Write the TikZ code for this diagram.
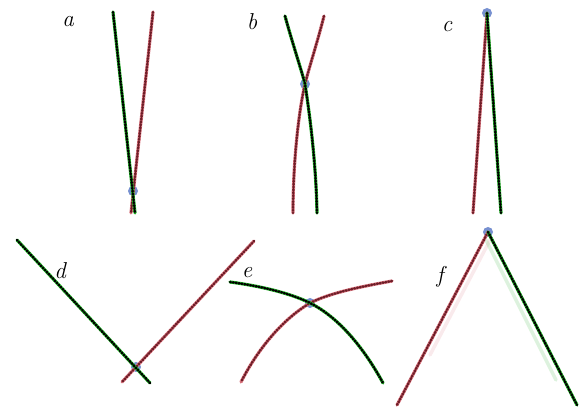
\documentclass[tikz,border=0pt]{standalone}
\begin{document}
\begin{tikzpicture}[x=1pt,y=-1pt]
\definecolor{ropegreen}{RGB}{30,170,35}
\definecolor{ropered}{RGB}{215,115,125}
\definecolor{stripered}{RGB}{110,30,40}
\definecolor{contactblue}{RGB}{95,125,200}
\tikzset{
  greenrope/.style={line width=3.2pt, draw=ropegreen, line cap=round,
    postaction={draw=black, line width=2.4pt, dash pattern=on 0.9pt off 2pt}},
  redrope/.style={line width=3.2pt, draw=ropered, line cap=round,
    postaction={draw=stripered, line width=2.4pt, dash pattern=on 0.9pt off 2pt}},
  ghostred/.style={line width=3.5pt, draw=ropered, opacity=0.15, line cap=round},
  ghostgreen/.style={line width=3.5pt, draw=ropegreen, opacity=0.15, line cap=round},
  contact/.style={circle, fill=contactblue, opacity=0.85, inner sep=0pt, minimum size=10pt},
  panellabel/.style={font=\fontsize{23}{26}\selectfont\itshape, inner sep=0pt}
}
\useasboundingbox (0,0) rectangle (584,411);

% ---------- labels
\node[panellabel] (la) at (68,22) {a};
\node[panellabel] (lb) at (252,22) {b};
\node[panellabel] (lc) at (447,27) {c};
\node[panellabel] (ld) at (60,271) {d};
\node[panellabel] (le) at (247,273) {e};
\node[panellabel] (lf) at (440,277) {f};

% ---------- contact points
\node[contact] (ka) at (133,191) {};
\node[contact] (kb) at (305,84) {};
\node[contact] (kc) at (487,13) {};
\node[contact] (kd) at (136,367) {};
\node[contact] (ke) at (310,303) {};
\node[contact] (kf) at (488,232) {};

% ---------- coordinates
\coordinate (aG1) at (113,12);  \coordinate (aG2) at (135,213);
\coordinate (aR1) at (153,12);  \coordinate (aR2) at (131,213);
\coordinate (bG1) at (285,16);  \coordinate (bG2) at (317,213);
\coordinate (bR1) at (324,16);  \coordinate (bR2) at (293,213);
\coordinate (cR2) at (473,213); \coordinate (cG2) at (501,213);
\coordinate (dG1) at (17,240);  \coordinate (dG2) at (150,383);
\coordinate (dR1) at (254,241); \coordinate (dR2) at (122,382);
\coordinate (eG1) at (230,282); \coordinate (eG2) at (383,383);
\coordinate (eR1) at (392,281); \coordinate (eR2) at (241,382);
\coordinate (fR2) at (397,405); \coordinate (fG2) at (577,405);

% ---------- panel f shadows
\draw[ghostred] (kf.center) ++(2,8) -- ++(-60,115);
\draw[ghostgreen] (kf.center) ++(-2,8) -- ++(70,140);

% ---------- red ropes
\draw[redrope] (aR1) -- (aR2);
\draw[redrope] (bR1) .. controls (318,40) and (309,68) .. (kb.center)
  .. controls (299,110) and (293,160) .. (bR2);
\draw[redrope] (kc.center) -- (cR2);
\draw[redrope] (dR1) -- (dR2);
\draw[redrope] (eR1) .. controls (365,286) and (332,292) .. (ke.center)
  .. controls (285,318) and (260,345) .. (eR2);
\draw[redrope] (kf.center) -- (fR2);

% ---------- green ropes
\draw[greenrope] (aG1) -- (aG2);
\draw[greenrope] (bG1) .. controls (293,45) and (302,72) .. (kb.center)
  .. controls (309,110) and (316,160) .. (bG2);
\draw[greenrope] (kc.center) -- (cG2);
\draw[greenrope] (dG1) -- (dG2);
\draw[greenrope] (eG1) .. controls (260,286) and (290,293) .. (ke.center)
  .. controls (340,318) and (365,350) .. (eG2);
\draw[greenrope] (kf.center) -- (fG2);
\end{tikzpicture}
\end{document}
